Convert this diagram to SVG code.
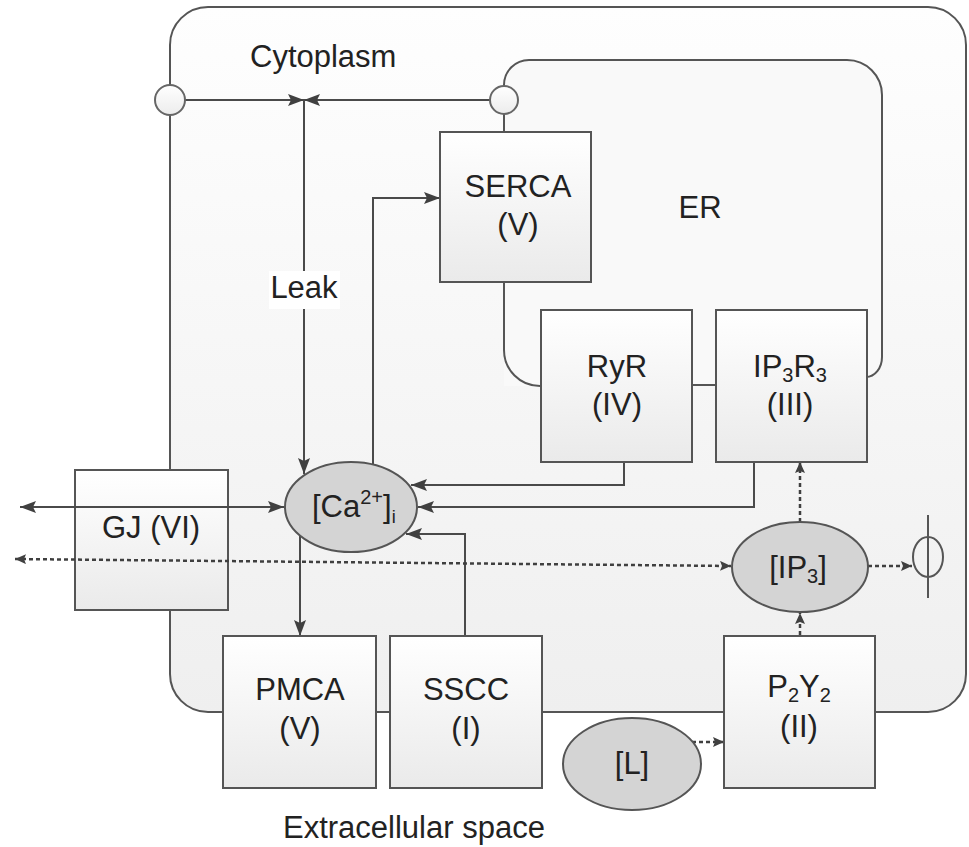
<svg xmlns="http://www.w3.org/2000/svg" width="969" height="847" viewBox="0 0 969 847">
<defs>
<linearGradient id="cellG" x1="0" y1="0" x2="0" y2="1">
<stop offset="0" stop-color="#fefefe"/><stop offset="1" stop-color="#efefef"/>
</linearGradient>
<linearGradient id="boxG" x1="0" y1="0" x2="0" y2="1">
<stop offset="0" stop-color="#ffffff"/><stop offset="1" stop-color="#eaeaea"/>
</linearGradient>
<linearGradient id="circG" x1="0" y1="0" x2="0" y2="1">
<stop offset="0" stop-color="#ffffff"/><stop offset="1" stop-color="#ececec"/>
</linearGradient>
<marker id="a" viewBox="0 0 16 12" refX="16" refY="6" markerWidth="16" markerHeight="12" orient="auto-start-reverse" markerUnits="userSpaceOnUse">
<path d="M0,0 L16,6 L0,12 L3,6 z" fill="#404040"/>
</marker>
<marker id="d" viewBox="0 0 11 10" refX="11" refY="5" markerWidth="11" markerHeight="10" orient="auto-start-reverse" markerUnits="userSpaceOnUse">
<path d="M0,0 L11,5 L0,10 L2,5 z" fill="#404040"/>
</marker>
</defs>
<style>
.ln{fill:none;stroke:#555;stroke-width:2}
.c{fill:none;stroke:#4a4a4a;stroke-width:2}
.dt{fill:none;stroke:#3f3f3f;stroke-width:2.5;stroke-dasharray:4 3}
.box{fill:url(#boxG);stroke:#555;stroke-width:2}
.ell{fill:#d4d4d4;stroke:#555;stroke-width:2}
.circ{fill:url(#circG);stroke:#666;stroke-width:2}
text{font-family:"Liberation Sans",Arial,sans-serif;font-size:31px;fill:#222}
.m{text-anchor:middle}
</style>
<rect width="969" height="847" fill="#ffffff"/>
<g id="cell">
<rect x="170" y="7" width="796" height="705" rx="38" ry="38" fill="url(#cellG)" stroke="#555" stroke-width="2"/>
</g>
<g id="er">
<path d="M504,86 L504,85 A25,25 0 0 1 529,60 L847,60 A35,35 0 0 1 882,95 L882,357 A16,20 0 0 1 866,377 L866,386 L504,386 Z" fill="#f9f9f9" stroke="none"/>
<path class="ln" d="M504,86 L504,85 A25,25 0 0 1 529,60 L847,60 A35,35 0 0 1 882,95 L882,357 A16,20 0 0 1 866,377"/>
<path class="ln" d="M504,114 L504,132 M504,282 L504,350 A36,36 0 0 0 540,386 M692,385 L716,385"/>
</g>
<text x="250" y="67">Cytoplasm</text>
<text class="m" x="700" y="218">ER</text>
<g id="gj">
<rect class="box" x="75" y="470" width="153" height="140"/>
<text class="m" x="151" y="538">GJ (VI)</text>
</g>
<g id="connectors">
<path class="c" d="M185,100 L304,100" marker-end="url(#a)"/>
<path class="c" d="M490,100 L304,100" marker-end="url(#a)"/>
<path class="c" d="M304,100 L304,474" marker-end="url(#a)"/>
<path class="c" d="M373,465 L373,198 L440,198" marker-end="url(#a)"/>
<path class="c" d="M624,462 L624,485 L411,485" marker-end="url(#a)"/>
<path class="c" d="M754,462 L754,507 L418,507" marker-end="url(#a)"/>
<path class="c" d="M465,636 L465,534 L406,534" marker-end="url(#a)"/>
<path class="c" d="M300,536 L300,636" marker-end="url(#a)"/>
<path class="c" d="M20,507 L284,507" marker-start="url(#a)" marker-end="url(#a)"/>
<path class="dt" d="M15,559 L731,566" marker-start="url(#d)" marker-end="url(#d)"/>
<path class="dt" d="M800,522 L800,462" marker-end="url(#d)"/>
<path class="dt" d="M868,566 L912,566" marker-end="url(#d)"/>
<path class="dt" d="M800,635 L800,613" marker-end="url(#d)"/>
<path class="dt" d="M692,742 L724,742" marker-end="url(#d)"/>
</g>
<g id="leak-label">
<rect x="269" y="271" width="71" height="38" fill="#ffffff"/>
<text class="m" x="304" y="298">Leak</text>
</g>
<g id="circle-pm"><circle class="circ" cx="170" cy="100" r="15"/></g>
<g id="circle-er"><circle class="circ" cx="504" cy="100" r="14"/></g>
<g id="serca">
<rect class="box" x="440" y="132" width="151" height="150"/>
<text class="m" x="518" y="197">SERCA</text>
<text class="m" x="518" y="235">(V)</text>
</g>
<g id="ryr">
<rect class="box" x="541" y="310" width="151" height="152"/>
<text class="m" x="617" y="377">RyR</text>
<text class="m" x="617" y="415">(IV)</text>
</g>
<g id="ip3r3">
<rect class="box" x="716" y="310" width="151" height="152"/>
<text class="m" x="790" y="377">IP<tspan font-size="20" dy="5">3</tspan><tspan dy="-5">R</tspan><tspan font-size="20" dy="5">3</tspan></text>
<text class="m" x="790" y="415">(III)</text>
</g>
<g id="ca">
<ellipse class="ell" cx="351" cy="507" rx="66" ry="45"/>
<text x="312" y="517">[Ca<tspan font-size="20" dy="-13">2+</tspan><tspan dy="13">]</tspan><tspan font-size="18" dy="6">i</tspan></text>
</g>
<g id="ip3">
<ellipse class="ell" cx="800" cy="567" rx="68" ry="45"/>
<text class="m" x="798" y="578">[IP<tspan font-size="20" dy="5">3</tspan><tspan dy="-5">]</tspan></text>
</g>
<g id="phi">
<ellipse cx="928" cy="557" rx="15" ry="20" fill="none" stroke="#555" stroke-width="2"/>
<line x1="928" y1="515" x2="928" y2="598" stroke="#555" stroke-width="2"/>
</g>
<g id="pmca">
<rect class="box" x="223" y="636" width="153" height="152"/>
<text class="m" x="300" y="700">PMCA</text>
<text class="m" x="300" y="739">(V)</text>
</g>
<g id="sscc">
<rect class="box" x="390" y="636" width="152" height="152"/>
<text class="m" x="466" y="700">SSCC</text>
<text class="m" x="466" y="739">(I)</text>
</g>
<g id="p2y2">
<rect class="box" x="724" y="636" width="151" height="152"/>
<text class="m" x="799" y="697">P<tspan font-size="20" dy="5">2</tspan><tspan dy="-5">Y</tspan><tspan font-size="20" dy="5">2</tspan></text>
<text class="m" x="799" y="737">(II)</text>
</g>
<g id="l">
<ellipse class="ell" cx="632" cy="764" rx="69" ry="46"/>
<text class="m" x="632" y="774">[L]</text>
</g>
<text x="283" y="838">Extracellular space</text>
</svg>
